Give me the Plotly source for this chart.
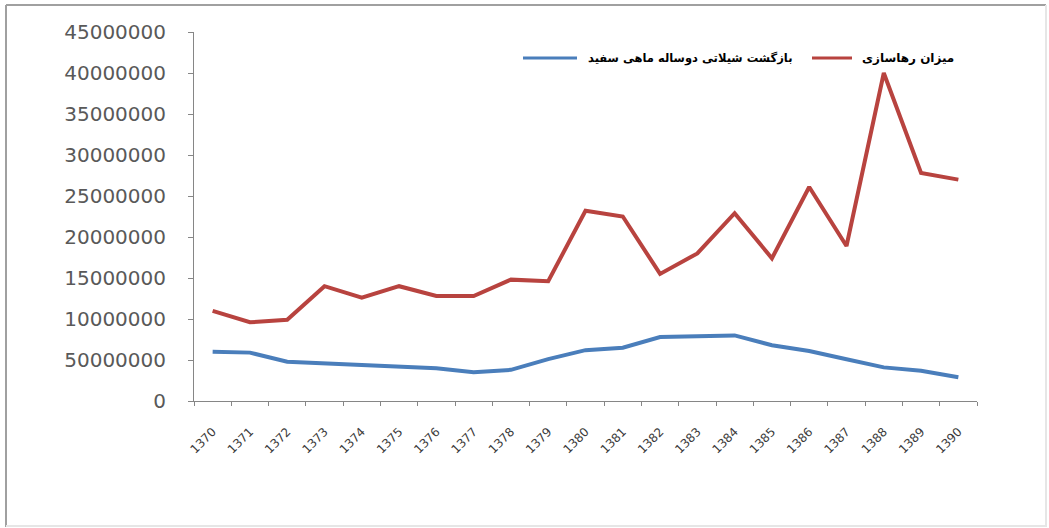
import plotly.graph_objects as go

# Years (Iranian calendar)
years = ["1370", "1371", "1372", "1373", "1374", "1375", "1376", "1377", "1378", "1379",
         "1380", "1381", "1382", "1383", "1384", "1385", "1386", "1387", "1388", "1389", "1390"]

# Two-year fishery return of kutum (white fish)
fishery_return = [6.0e6, 5.9e6, 4.8e6, 4.6e6, 4.5e6, 4.3e6, 4.0e6, 3.5e6, 3.8e6, 5.1e6,
                  6.2e6, 6.5e6, 7.8e6, 7.9e6, 8.0e6, 6.8e6, 6.1e6, 5.1e6, 4.1e6, 3.7e6, 2.9e6]

# Fingerlings released
released = [11.0e6, 9.6e6, 9.9e6, 14.0e6, 12.6e6, 14.0e6, 12.8e6, 12.8e6, 14.8e6, 14.6e6,
            23.2e6, 22.5e6, 15.5e6, 18.0e6, 22.9e6, 17.4e6, 26.1e6, 18.9e6, 40.0e6, 27.8e6, 27.0e6]

y_ticks = [0, 5e6, 10e6, 15e6, 20e6, 25e6, 30e6, 35e6, 40e6, 45e6]
y_tick_text = ["0", "50000000", "10000000", "15000000", "20000000", "25000000",
               "30000000", "35000000", "40000000", "45000000"]

name_return = "بازگشت شیلاتی دوساله ماهی سفید"
name_released = "میزان رهاسازی"

color_return = "#4A7EBB"
color_released = "#B8433F"

W, H = 1049, 528
L, R, T, B = 194, 72, 32, 127
pw, ph = W - L - R, H - T - B


def px_x(p):
    return (p - L) / pw


def px_y(p):
    return (H - B - p) / ph


fig = go.Figure()
fig.add_trace(go.Scatter(x=years, y=fishery_return, mode="lines", name=name_return,
                         line=dict(color=color_return, width=4), showlegend=False))
fig.add_trace(go.Scatter(x=years, y=released, mode="lines", name=name_released,
                         line=dict(color=color_released, width=4), showlegend=False))

axis_color = "#868686"
fig.update_layout(
    width=W, height=H,
    margin=dict(l=L, r=R, t=T, b=B),
    paper_bgcolor="white", plot_bgcolor="white",
    xaxis=dict(type="category", range=[-0.5, 20.5], showgrid=False, zeroline=False,
               showline=True, linecolor=axis_color, linewidth=1,
               ticks="outside", tickson="boundaries", ticklen=4, tickcolor=axis_color,
               tickangle=-45, ticklabelstandoff=18,
               tickfont=dict(family="DejaVu Sans", size=12, color="#3A3A3A")),
    yaxis=dict(range=[0, 45e6], showgrid=False, zeroline=False,
               showline=True, linecolor=axis_color, linewidth=1,
               ticks="outside", ticklen=5, tickcolor=axis_color,
               tickvals=y_ticks, ticktext=y_tick_text, ticklabelstandoff=18,
               tickfont=dict(family="DejaVu Sans", size=20, color="#595959")),
)

# Legend: line swatch followed by series name
legend_items = [(name_return, color_return, 523, 577, 586, 11.5),
                (name_released, color_released, 812, 852, 860, 12)]
for label, col, lx0, lx1, tx, fs in legend_items:
    fig.add_shape(type="line", xref="paper", yref="paper",
                  x0=px_x(lx0), x1=px_x(lx1), y0=px_y(58), y1=px_y(58),
                  line=dict(color=col, width=3))
    fig.add_annotation(xref="paper", yref="paper", x=px_x(tx), y=px_y(58),
                       xanchor="left", yanchor="middle", showarrow=False, text=label,
                       font=dict(family="DejaVu Sans", size=fs, color="#000000", weight="bold"))

# Outer chart frame
frame_strong = "#A0A0A0"
frame_faint = "#E6E6E6"
fig.add_shape(type="line", xref="paper", yref="paper",
              x0=px_x(6), x1=px_x(1046), y0=px_y(5), y1=px_y(5),
              line=dict(color=frame_strong, width=2))
fig.add_shape(type="line", xref="paper", yref="paper",
              x0=px_x(6), x1=px_x(6), y0=px_y(5), y1=px_y(527),
              line=dict(color=frame_strong, width=2))
fig.add_shape(type="line", xref="paper", yref="paper",
              x0=px_x(1046), x1=px_x(1046), y0=px_y(5), y1=px_y(527),
              line=dict(color=frame_faint, width=2))
fig.add_shape(type="line", xref="paper", yref="paper",
              x0=px_x(6), x1=px_x(1046), y0=px_y(526), y1=px_y(526),
              line=dict(color=frame_faint, width=2))

fig.write_html("out.html")
